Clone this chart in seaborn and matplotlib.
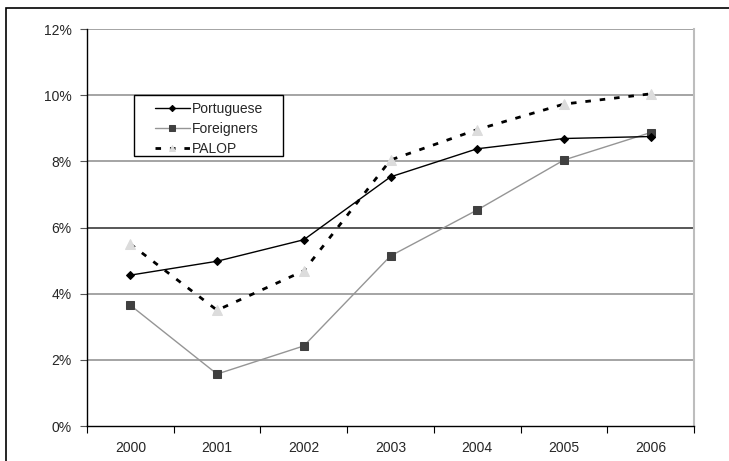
import numpy as np
import pandas as pd
import seaborn as sns
import matplotlib.pyplot as plt
from matplotlib.patches import Rectangle

# Data (percent)
years = [2000, 2001, 2002, 2003, 2004, 2005, 2006]
portuguese = [4.56, 4.98, 5.63, 7.53, 8.38, 8.69, 8.75]
foreigners = [3.65, 1.57, 2.42, 5.14, 6.53, 8.04, 8.87]
palop = [5.50, 3.50, 4.69, 8.04, 8.96, 9.73, 10.04]
y_ticks = [0, 2, 4, 6, 8, 10, 12]

df = pd.DataFrame({"Year": years, "Portuguese": portuguese,
                   "Foreigners": foreigners, "PALOP": palop})

sns.set_style("white")
plt.rcParams['font.family'] = ['Liberation Sans', 'DejaVu Sans']

fig = plt.figure(figsize=(7.29, 4.61), dpi=100)
ax = fig.add_axes([87 / 729, 1 - 426 / 461, 607 / 729, 397 / 461])

# Gridlines
for t in y_ticks[1:]:
    ax.axhline(t, color="#2a2a2a" if t == 6 else "#8c8c8c", lw=1.1, zorder=1)

# Series
sns.lineplot(data=df, x="Year", y="Portuguese", ax=ax, color="black", lw=1,
             marker="D", markersize=4.5, markerfacecolor="black",
             markeredgecolor="black", label="Portuguese", zorder=4)
sns.lineplot(data=df, x="Year", y="Foreigners", ax=ax, color="#959595", lw=1,
             marker="s", markersize=6, markerfacecolor="#404040",
             markeredgecolor="#404040", label="Foreigners", zorder=3)
sns.lineplot(data=df, x="Year", y="PALOP", ax=ax, color="black", lw=2,
             linestyle=(0, (2, 3.2)), marker="^", markersize=7,
             markerfacecolor="#dcdcdc", markeredgecolor="#dcdcdc",
             label="PALOP", zorder=2)

ax.set_xlim(1999.5, 2006.5)
ax.set_ylim(0, 12)
ax.set_xlabel("")
ax.set_ylabel("")

ax.set_yticks(y_ticks)
ax.set_yticklabels([f"{t}%" for t in y_ticks], fontsize=10)
ax.set_xticks(np.arange(1999.5, 2007, 1))
ax.set_xticklabels([])
ax.set_xticks(years, minor=True)
ax.set_xticklabels([str(y) for y in years], minor=True, fontsize=10)
ax.tick_params(axis="x", which="major", direction="out", length=5,
               color="black", bottom=True)
ax.tick_params(axis="x", which="minor", length=0, pad=11)
ax.tick_params(axis="y", direction="out", length=5, color="#555555",
               left=True, pad=6)

for side in ["left", "bottom"]:
    ax.spines[side].set_color("black")
    ax.spines[side].set_linewidth(1)
ax.spines["right"].set_color("#bdbdbd")
ax.spines["right"].set_linewidth(1.5)
ax.spines["top"].set_visible(False)

# Legend without its own frame, boxed by a separate rectangle
ax.legend(loc="upper left", bbox_to_anchor=((155 - 87) / 607, (426 - 102) / 397),
          frameon=False, fontsize=10, handlelength=2.5, handletextpad=0.15,
          borderpad=0, labelspacing=0.44, borderaxespad=0, markerscale=0.7)
ax.add_patch(Rectangle(((134 - 87) / 607, (426 - 156) / 397), 149 / 607, 61 / 397,
                       transform=ax.transAxes, fill=True, facecolor="white",
                       edgecolor="black", lw=1, zorder=5))
ax.get_legend().set_zorder(6)

# Outer chart border (left and top edges visible)
fig.patches.append(Rectangle((6 / 729, -0.1), 1.2, 1 - 8 / 461 + 0.1,
                             transform=fig.transFigure, fill=False,
                             edgecolor="black", lw=1.2))

fig.savefig("out.png", dpi=100)
